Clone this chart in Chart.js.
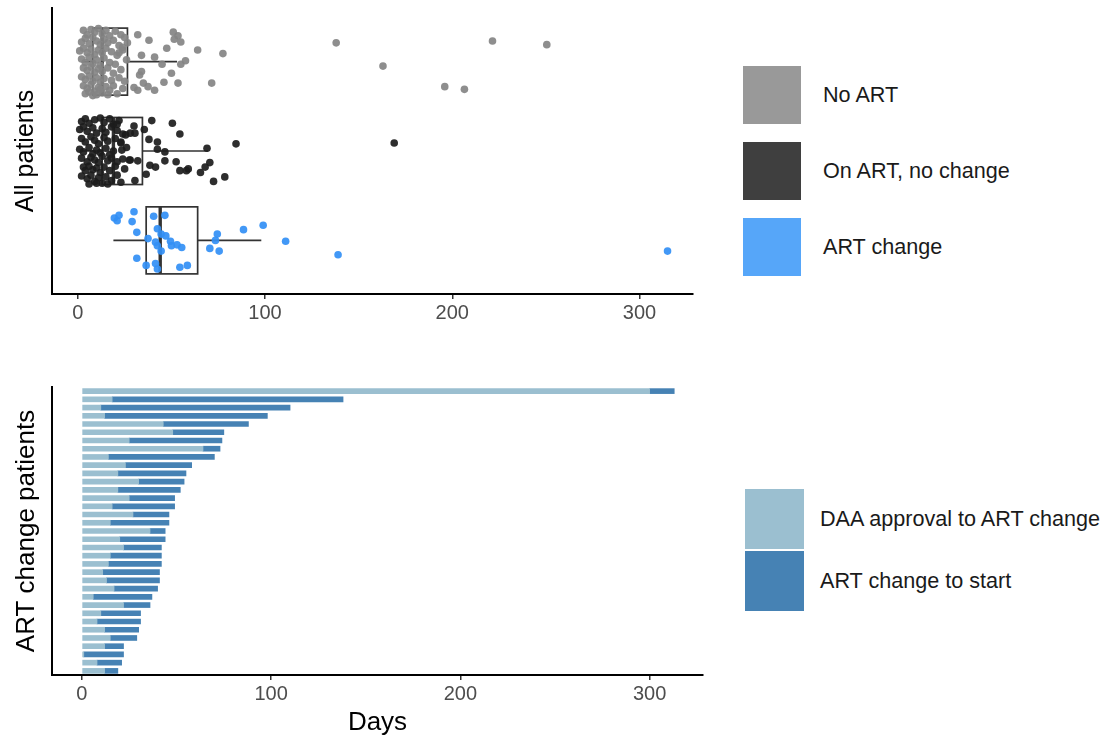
<!DOCTYPE html>
<html>
<head>
<meta charset="utf-8">
<script src="https://cdn.jsdelivr.net/npm/chart.js@4.4.0/dist/chart.umd.min.js"></script>
<style>
  body { margin: 0; background: #fff; width: 1117px; height: 738px; position: relative; overflow: hidden;
         font-family: "Liberation Sans", Arial, sans-serif; }
  #topChart { position: absolute; left: 0; top: 0; }
  #bottomChart { position: absolute; left: 0; top: 370px; }
  .key { position: absolute; display: flex; align-items: center; font-size: 21.6px; color: #1a1a1a; white-space: nowrap; }
  .key span { display: inline-block; }
</style>
</head>
<body>
<canvas id="topChart" width="700" height="330"></canvas>
<canvas id="bottomChart" width="710" height="368"></canvas>

<div class="key" style="left:743px;top:66px"><span style="width:58px;height:58px;background:#999999;margin-right:22px"></span>No ART</div>
<div class="key" style="left:743px;top:142px"><span style="width:58px;height:58px;background:#3f3f3f;margin-right:22px"></span>On ART, no change</div>
<div class="key" style="left:743px;top:218px"><span style="width:58px;height:58px;background:#56a6f9;margin-right:22px"></span>ART change</div>

<div class="key" style="left:745px;top:489px"><span style="width:59px;height:60px;background:#9bbfd0;margin-right:16px"></span>DAA approval to ART change</div>
<div class="key" style="left:745px;top:551px"><span style="width:59px;height:60px;background:#4682b4;margin-right:16px"></span>ART change to start</div>

<script>
Chart.defaults.font.family = '"Liberation Sans", Arial, sans-serif';

// ---- top panel: days per patient, [days, vertical jitter] ----
var groups = ['No ART', 'On ART, no change', 'ART change'];
var groupColors = ['rgba(132,132,132,0.92)', 'rgba(28,28,28,0.92)', 'rgba(50,143,245,0.92)'];

var noArt = [
  [3,-0.35],[5,-0.3],[7,-0.36],[9,-0.33],[11,-0.37],[13,-0.31],[15,-0.35],[17,-0.29],[20,-0.34],[23,-0.3],
  [2,-0.22],[4,-0.26],[6,-0.2],[8,-0.27],[10,-0.23],[12,-0.19],[14,-0.25],[16,-0.21],[19,-0.24],[22,-0.18],[25,-0.27],
  [1,-0.12],[3,-0.15],[5,-0.1],[7,-0.14],[9,-0.08],[11,-0.13],[13,-0.1],[15,-0.15],[18,-0.11],[21,-0.07],[24,-0.13],
  [2,-0.03],[4,0.01],[6,-0.05],[8,0.02],[10,-0.02],[12,0.04],[14,-0.04],[17,0.01],[20,0.03],[26,-0.02],
  [3,0.07],[5,0.1],[7,0.06],[9,0.12],[11,0.08],[13,0.11],[16,0.07],[19,0.13],[23,0.09],
  [2,0.17],[4,0.2],[6,0.16],[8,0.22],[10,0.18],[12,0.23],[14,0.19],[18,0.21],[22,0.18],[25,0.22],
  [3,0.27],[5,0.3],[7,0.26],[9,0.33],[11,0.29],[13,0.35],[15,0.28],[17,0.32],[21,0.36],[24,0.3],
  [4,0.36],[6,0.34],[8,0.38],[10,0.37],[12,0.31],[16,0.37],[19,0.27],
  [32,-0.3],[38,-0.24],[51,-0.33],[53.5,-0.29],[51.5,-0.25],[55,-0.22],[47.5,-0.15],[64,-0.13],[77.5,-0.09],
  [34,-0.07],[41,-0.05],[57.5,-0.01],[55,0.03],[45,0.03],[34,0.11],[33,0.15],[50,0.13],[53.5,0.24],
  [46,0.23],[71.5,0.24],[41,0.32],[37.5,0.28],[32,0.32],[30,0.29],[35,0.24],[26.5,-0.21],[24,-0.16],[22,-0.1],
  [138,-0.21],[163,0.05],[196,0.28],[206.5,0.31],[221.5,-0.23],[250.5,-0.19]
];

var onArt = [
  [2,-0.33],[4,-0.36],[6,-0.31],[9,-0.35],[12,-0.37],[14,-0.32],[17,-0.36],[19,-0.3],[22,-0.34],
  [1,-0.24],[3,-0.27],[5,-0.22],[8,-0.26],[10,-0.2],[13,-0.25],[15,-0.21],[18,-0.27],[21,-0.23],[24,-0.19],
  [2,-0.14],[4,-0.1],[7,-0.16],[9,-0.12],[11,-0.08],[14,-0.15],[16,-0.11],[20,-0.14],[23,-0.09],
  [1,-0.02],[3,0.01],[6,-0.04],[8,0.03],[10,-0.01],[12,0.02],[15,-0.03],[17,0.04],[19,0],[26,-0.04],
  [2,0.08],[5,0.12],[7,0.07],[9,0.1],[11,0.13],[13,0.06],[16,0.11],[18,0.08],[21,0.12],[24,0.09],[28,0.1],
  [3,0.18],[4,0.22],[6,0.17],[8,0.21],[10,0.19],[12,0.24],[14,0.18],[17,0.22],[20,0.17],[25,0.2],
  [2,0.28],[5,0.31],[7,0.27],[9,0.34],[11,0.3],[13,0.36],[15,0.29],[18,0.33],[21,0.27],[23,0.35],
  [6,0.37],[10,0.36],[16,0.37],
  [39.5,-0.34],[50.5,-0.31],[54.5,-0.19],[35.5,-0.24],[30.5,-0.2],[30,-0.28],[38,-0.13],[42.5,-0.1],
  [42.5,-0.02],[46.5,0.01],[69,-0.03],[84.5,-0.08],[32,0.11],[38.5,0.16],[41.5,0.18],[46.5,0.11],
  [52.5,0.12],[54.5,0.22],[59,0.2],[58,0.22],[65.5,0.24],[68,0.18],[70.5,0.13],[72.5,0.34],[78.5,0.29],
  [36.5,0.26],[30.5,0.33],[23.5,-0.01],[27.5,0.1],[23,-0.1],[28,-0.2],[25.5,-0.18],[21,-0.3],
  [169,-0.09]
];

var artChange = [
  [19.5,-0.25],[22,-0.28],[21,-0.22],[30,-0.32],[29,-0.21],[31.5,-0.09],[40.5,-0.27],[46.5,-0.28],
  [37.5,-0.02],[42.5,-0.13],[44.5,-0.07],[47,-0.05],[41.5,0.02],[42.5,0.06],[44.5,0.12],[49.5,0.01],
  [50,0.06],[53,0.05],[55.5,0.08],[31.5,0.2],[36.5,0.28],[41.5,0.26],[42.5,0.32],[54.5,0.3],[58.5,0.28],
  [74.5,-0.07],[73.5,0],[70.5,0.09],[75.5,0.12],[88.5,-0.12],[99,-0.17],[111,0.01],
  [139,0.16],[315,0.12]
];

var groupPoints = [noArt, onArt, artChange];

// box plot summaries (days)
var boxMin = [2, 2, 19];
var boxQ1 = [8, 13, 36.5];
var boxMedian = [13, 19, 44];
var boxQ3 = [26.5, 34.5, 64];
var boxMax = [53, 69.5, 98];

var xTicks = [0, 100, 200, 300];

// ---- bottom panel: days per ART change patient ----
var approvalToChange = [300,16,10,12,43,48,25,64,14,23,19,30,19,25,16,27,15,36,20,22,15,14,11,13,17,6,22,10,8,12,15,12,1,8,12];
var changeToStart   = [13,122,100,86,45,27,49,9,56,35,36,24,33,24,33,19,31,8,24,20,27,28,30,28,23,31,14,21,23,18,14,10,21,13,7];
var patients = approvalToChange.map(function (v, i) { return 'P' + (i + 1); });

var boxPlugin = {
  id: 'boxes',
  beforeDatasetsDraw: function (chart) {
    var ctx = chart.ctx, xs = chart.scales.x, ys = chart.scales.y;
    ctx.save();
    ctx.strokeStyle = '#333333';
    for (var i = 0; i < groups.length; i++) {
      var yc = ys.getPixelForValue(i);
      var yTop = ys.getPixelForValue(i - 0.375);
      var yBot = ys.getPixelForValue(i + 0.375);
      var lo = xs.getPixelForValue(boxMin[i]);
      var q1 = xs.getPixelForValue(boxQ1[i]);
      var med = xs.getPixelForValue(boxMedian[i]);
      var q3 = xs.getPixelForValue(boxQ3[i]);
      var hi = xs.getPixelForValue(boxMax[i]);
      ctx.lineWidth = 1.7;
      ctx.beginPath();
      ctx.moveTo(lo, yc); ctx.lineTo(q1, yc);
      ctx.moveTo(q3, yc); ctx.lineTo(hi, yc);
      ctx.stroke();
      ctx.fillStyle = '#ffffff';
      ctx.fillRect(q1, yTop, q3 - q1, yBot - yTop);
      ctx.strokeRect(q1, yTop, q3 - q1, yBot - yTop);
      ctx.lineWidth = 3.4;
      ctx.beginPath();
      ctx.moveTo(med, yTop); ctx.lineTo(med, yBot);
      ctx.stroke();
    }
    ctx.restore();
  }
};

function xAxis(min, max, height) {
  return {
    type: 'linear',
    min: min,
    max: max,
    afterFit: function (s) { s.height = height; },
    afterBuildTicks: function (s) { s.ticks = xTicks.map(function (v) { return { value: v }; }); },
    border: { display: true, color: '#000000', width: 2 },
    grid: { display: true, drawOnChartArea: false, drawTicks: true, tickLength: 5, color: '#333333', lineWidth: 1.5 },
    ticks: { color: '#4d4d4d', font: { size: 20 }, padding: 2, maxRotation: 0 }
  };
}

new Chart(document.getElementById('topChart'), {
  type: 'scatter',
  data: {
    datasets: groups.map(function (g, i) {
      return {
        label: g,
        data: groupPoints[i].map(function (p) { return { x: p[0], y: i + p[1] }; }),
        pointRadius: 3.8,
        pointBorderWidth: 0,
        pointBackgroundColor: groupColors[i],
        backgroundColor: groupColors[i]
      };
    })
  },
  options: {
    responsive: false,
    animation: false,
    layout: { padding: { top: 8, right: 7, left: 0, bottom: 0 } },
    plugins: { legend: { display: false }, tooltip: { enabled: false } },
    scales: {
      x: xAxis(-13.8, 328.6, 36),
      y: {
        type: 'linear',
        min: -0.6,
        max: 2.6,
        reverse: true,
        afterFit: function (s) { s.width = 52; },
        ticks: { display: false },
        grid: { display: false },
        border: { display: true, color: '#000000', width: 2 },
        title: { display: true, text: 'All patients', color: '#000000', font: { size: 25 }, padding: { top: 11, bottom: 0 } }
      }
    }
  },
  plugins: [boxPlugin]
});

var bottomX = xAxis(-15.8, 328.2, 63);
bottomX.stacked = true;
bottomX.title = { display: true, text: 'Days', color: '#000000', font: { size: 26 }, padding: { top: 0, bottom: 0 } };

new Chart(document.getElementById('bottomChart'), {
  type: 'bar',
  data: {
    labels: patients,
    datasets: [{
      label: 'DAA approval to ART change',
      data: approvalToChange,
      backgroundColor: '#9bbfd0',
      borderWidth: 0,
      barThickness: 5
    }, {
      label: 'ART change to start',
      data: changeToStart,
      backgroundColor: '#4682b4',
      borderWidth: 0,
      barThickness: 5
    }]
  },
  options: {
    indexAxis: 'y',
    responsive: false,
    animation: false,
    layout: { padding: { top: 17, right: 7, left: 0, bottom: 0 } },
    plugins: { legend: { display: false }, tooltip: { enabled: false } },
    scales: {
      x: bottomX,
      y: {
        stacked: true,
        afterFit: function (s) { s.width = 52; },
        ticks: { display: false },
        grid: { display: false },
        border: { display: true, color: '#000000', width: 2 },
        title: { display: true, text: 'ART change patients', color: '#000000', font: { size: 26 }, padding: { top: 11, bottom: 0 } }
      }
    }
  }
});
</script>
</body>
</html>
